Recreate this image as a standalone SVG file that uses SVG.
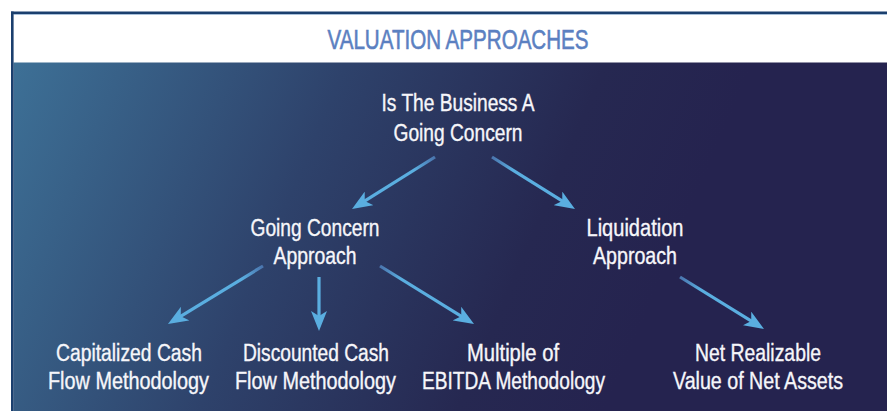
<svg xmlns="http://www.w3.org/2000/svg" width="887" height="411" viewBox="0 0 887 411">
  <style>
    .lbl { font-family: "Liberation Sans", Arial, sans-serif; font-size: 23px; fill: #f6f6fa; stroke: #f6f6fa; stroke-width: 0.35; text-anchor: middle; }
    .title { font-family: "Liberation Sans", Arial, sans-serif; font-size: 27px; fill: #5b80c1; stroke: #5b80c1; stroke-width: 0.6; text-anchor: middle; }
    .arrow { fill: none; stroke-width: 3.2; marker-end: url(#head); }
  </style>
  <defs>
    <linearGradient id="panel" gradientUnits="userSpaceOnUse" x1="14" y1="63" x2="640" y2="330">
      <stop offset="0" stop-color="#3d7096"/>
      <stop offset="0.45" stop-color="#2e426b"/>
      <stop offset="0.8" stop-color="#262851"/>
      <stop offset="1" stop-color="#25234f"/>
    </linearGradient>
    <marker id="head" markerUnits="userSpaceOnUse" viewBox="0 0 20 16" refX="10" refY="8" markerWidth="20" markerHeight="16" orient="auto">
      <path d="M0,0 L20,8 L0,16 L5,8 Z" fill="#5aaee0"/>
    </marker>
    <!-- each stroke fades in from its start point -->
    <linearGradient id="g1" gradientUnits="userSpaceOnUse" x1="435" y1="157" x2="414" y2="170">
      <stop offset="0" stop-color="#4a74ad"/><stop offset="1" stop-color="#5aaee0"/>
    </linearGradient>
    <linearGradient id="g2" gradientUnits="userSpaceOnUse" x1="492" y1="157" x2="513" y2="170">
      <stop offset="0" stop-color="#4a74ad"/><stop offset="1" stop-color="#5aaee0"/>
    </linearGradient>
    <linearGradient id="g3" gradientUnits="userSpaceOnUse" x1="263" y1="266" x2="242" y2="279">
      <stop offset="0" stop-color="#4a74ad"/><stop offset="1" stop-color="#5aaee0"/>
    </linearGradient>
    <linearGradient id="g4" gradientUnits="userSpaceOnUse" x1="319" y1="277" x2="319" y2="292">
      <stop offset="0" stop-color="#5aaee0"/><stop offset="1" stop-color="#5aaee0"/>
    </linearGradient>
    <linearGradient id="g5" gradientUnits="userSpaceOnUse" x1="380" y1="266" x2="401" y2="279">
      <stop offset="0" stop-color="#4a74ad"/><stop offset="1" stop-color="#5aaee0"/>
    </linearGradient>
    <linearGradient id="g6" gradientUnits="userSpaceOnUse" x1="680" y1="277" x2="701" y2="290">
      <stop offset="0" stop-color="#4a74ad"/><stop offset="1" stop-color="#5aaee0"/>
    </linearGradient>
  </defs>

  <!-- page and frame -->
  <rect x="0" y="0" width="887" height="411" fill="#ffffff"/>
  <rect x="13.5" y="62.5" width="873.5" height="348.5" fill="url(#panel)"/>
  <rect x="11" y="11.5" width="876" height="2.6" fill="#1b3f6e"/>
  <rect x="13.5" y="14" width="873.5" height="1" fill="#a9c1da"/>
  <rect x="11" y="11.5" width="2.6" height="399.5" fill="#1b3f6e"/>

  <g id="title">
    <text class="title" x="458" y="48.5" textLength="261" lengthAdjust="spacingAndGlyphs">VALUATION APPROACHES</text>
  </g>

  <g id="connectors">
    <line class="arrow" stroke="url(#g1)" x1="435" y1="157" x2="360.5" y2="203.7"/>
    <line class="arrow" stroke="url(#g2)" x1="492" y1="157" x2="566.5" y2="203.7"/>
    <line class="arrow" stroke="url(#g3)" x1="263" y1="266" x2="176.5" y2="318.8"/>
    <line class="arrow" stroke="url(#g4)" x1="319" y1="277" x2="319" y2="321"/>
    <line class="arrow" stroke="url(#g5)" x1="380" y1="266" x2="465.5" y2="318.8"/>
    <line class="arrow" stroke="url(#g6)" x1="680" y1="277" x2="755.5" y2="323.7"/>
  </g>

  <g id="going-concern-question">
    <text class="lbl" x="458" y="111" textLength="153" lengthAdjust="spacingAndGlyphs">Is The Business A</text>
    <text class="lbl" x="458" y="141" textLength="129" lengthAdjust="spacingAndGlyphs">Going Concern</text>
  </g>
  <g id="going-concern-approach">
    <text class="lbl" x="315" y="236" textLength="129" lengthAdjust="spacingAndGlyphs">Going Concern</text>
    <text class="lbl" x="315" y="264" textLength="83" lengthAdjust="spacingAndGlyphs">Approach</text>
  </g>
  <g id="liquidation-approach">
    <text class="lbl" x="635" y="236" textLength="97" lengthAdjust="spacingAndGlyphs">Liquidation</text>
    <text class="lbl" x="635" y="264" textLength="84" lengthAdjust="spacingAndGlyphs">Approach</text>
  </g>
  <g id="capitalized-cash-flow">
    <text class="lbl" x="129" y="361" textLength="146" lengthAdjust="spacingAndGlyphs">Capitalized Cash</text>
    <text class="lbl" x="128.5" y="389" textLength="161" lengthAdjust="spacingAndGlyphs">Flow Methodology</text>
  </g>
  <g id="discounted-cash-flow">
    <text class="lbl" x="316" y="361" textLength="146" lengthAdjust="spacingAndGlyphs">Discounted Cash</text>
    <text class="lbl" x="315.5" y="389" textLength="161" lengthAdjust="spacingAndGlyphs">Flow Methodology</text>
  </g>
  <g id="ebitda-multiple">
    <text class="lbl" x="513" y="361" textLength="92" lengthAdjust="spacingAndGlyphs">Multiple of</text>
    <text class="lbl" x="513.5" y="389" textLength="183" lengthAdjust="spacingAndGlyphs">EBITDA Methodology</text>
  </g>
  <g id="net-realizable-value">
    <text class="lbl" x="758" y="361" textLength="126" lengthAdjust="spacingAndGlyphs">Net Realizable</text>
    <text class="lbl" x="758" y="389" textLength="170" lengthAdjust="spacingAndGlyphs">Value of Net Assets</text>
  </g>
</svg>
